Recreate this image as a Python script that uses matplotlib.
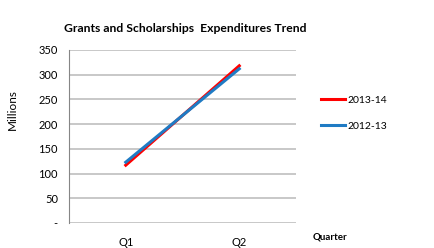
import matplotlib
matplotlib.use("Agg")
import matplotlib.pyplot as plt

quarters = ["Q1", "Q2"]
fy_2013_14 = [117, 318]
fy_2012_13 = [123, 312]
y_ticks = [0, 50, 100, 150, 200, 250, 300, 350]
y_labels = ["-", "50", "100", "150", "200", "250", "300", "350"]

plt.rcParams['font.family'] = ['Lato', 'DejaVu Sans']

fig = plt.figure(figsize=(4.35, 2.48), dpi=100)
ax = fig.add_axes([69/435, 1 - 223/248, 227/435, 173/248])

x = [0.5, 1.5]
l1, = ax.plot(x, fy_2013_14, color="#FF0000", lw=2.2, label="2013-14")
l2, = ax.plot(x, fy_2012_13, color="#1F7BC4", lw=2.2, label="2012-13")

ax.set_xlim(0, 2)
ax.set_ylim(0, 350)
ax.set_xticks(x)
ax.set_xticklabels(quarters, fontsize=8)
ax.set_yticks(y_ticks)
ax.set_yticklabels(y_labels, fontsize=8)
ax.tick_params(length=0, pad=10)
ax.tick_params(axis="y", pad=8)
ax.grid(axis="y", color="#BFBFBF", lw=1.2)
ax.set_axisbelow(True)
for s in ["top", "right", "bottom"]:
    ax.spines[s].set_visible(False)
ax.spines["left"].set_color("#868686")

fig.text(64/435, 1 - 29/248, "Grants and Scholarships  Expenditures Trend",
         fontsize=8.7, fontweight="bold", ha="left", va="center")
fig.text(12/435, 1 - 110/248, "Millions", fontsize=8.5, rotation=90,
         ha="center", va="center")
fig.text(313/435, 1 - 237/248, "Quarter", fontsize=7, fontweight="bold",
         ha="left", va="center")

fig.legend(handles=[l1, l2], loc="center left",
           bbox_to_anchor=(312/435, 1 - 113/248), frameon=False, fontsize=7.5,
           handlelength=2.3, handletextpad=0.2, labelspacing=1.6)

fig.savefig("out.png", dpi=100)
